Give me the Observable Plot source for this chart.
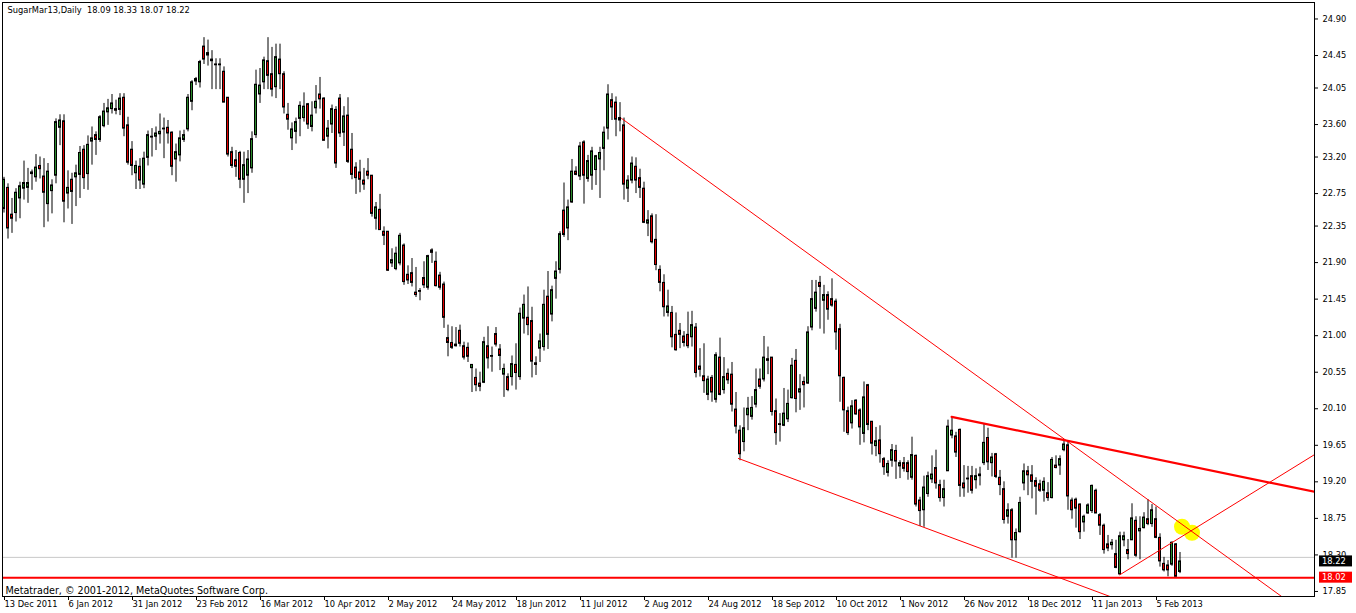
<!DOCTYPE html>
<html>
<head>
<meta charset="utf-8">
<script src="https://cdn.jsdelivr.net/npm/d3@7"></script>
<script src="https://cdn.jsdelivr.net/npm/@observablehq/plot@0.6"></script>
<style>
  html, body { margin: 0; padding: 0; background: #ffffff; }
  svg { display: block; }
</style>
</head>
<body>
<div id="chart"></div>
<script>
// ---- Data: SugarMar13 daily bars (index 0 = 13 Dec 2011) ----
const open = [
22.56,22.82,22.49,22.51,22.69,22.81,22.82,22.99,22.95,23.09,
22.96,22.62,22.78,22.97,23.56,23.64,22.75,22.92,22.95,22.98,
23.29,22.99,23.39,23.47,23.41,23.58,23.75,23.79,23.79,23.78,
23.93,23.59,23.29,23.00,23.08,22.86,23.19,23.45,23.45,23.48,
23.54,23.56,23.50,23.17,23.22,23.41,23.54,23.88,24.13,24.12,
24.56,24.45,24.40,24.34,24.33,24.25,23.93,23.26,23.16,23.25,
22.92,22.97,23.06,23.47,23.97,24.12,24.38,24.22,24.06,24.40,
24.22,23.72,23.43,23.51,23.67,23.68,23.85,23.57,23.80,23.97,
23.92,23.45,23.60,23.78,23.92,23.50,23.71,23.29,23.07,23.01,
22.91,23.02,22.97,22.44,22.55,22.28,22.28,21.89,21.82,21.89,
22.11,21.75,21.77,21.53,21.55,21.71,21.59,22.05,21.91,21.74,
21.63,20.97,20.91,20.89,21.06,20.87,20.85,20.60,20.48,20.41,
20.42,20.87,20.75,21.02,20.83,20.52,20.49,20.49,20.64,20.49,
21.21,21.22,21.18,20.66,20.84,20.86,21.48,21.26,21.70,21.81,
22.54,22.32,22.64,23.02,22.96,23.38,22.93,22.97,23.04,23.17,
23.30,23.55,23.90,23.87,23.68,23.59,22.81,22.91,23.08,22.94,
22.81,22.38,22.47,22.18,21.81,21.65,21.28,21.28,21.01,21.06,
20.99,21.01,20.98,21.10,20.62,20.50,20.27,20.48,20.21,20.73,
20.33,20.53,20.52,20.09,19.83,19.69,20.02,20.00,20.15,20.46,
20.46,20.71,20.73,20.07,19.91,19.89,19.97,20.23,20.69,20.30,
20.43,20.41,21.10,21.33,21.65,21.43,21.50,21.45,21.42,21.08,
20.48,20.07,19.92,20.20,20.08,19.79,20.39,19.94,19.64,19.71,
19.48,19.31,19.46,19.58,19.39,19.43,19.43,19.25,19.52,18.97,
18.85,19.05,19.23,19.37,19.16,19.00,19.33,19.77,19.76,19.84,
19.18,19.24,19.27,19.22,19.27,19.43,19.74,19.43,19.54,19.25,
19.11,18.77,18.85,18.48,18.58,19.18,19.33,19.28,19.21,19.17,
19.09,19.06,19.00,19.40,19.40,19.59,19.65,18.97,18.98,18.92,
18.70,18.81,18.84,19.09,18.79,18.66,18.43,18.42,18.31,18.06,
18.48,18.36,18.48,18.72,18.59,18.63,18.74,18.68,18.74,18.51,
18.19,18.17,18.18,18.43,18.09
];
const high = [
22.95,22.87,22.69,22.81,22.89,23.15,23.06,23.04,23.23,23.20,
23.18,23.12,22.92,23.67,23.72,23.72,23.03,23.00,23.10,23.33,
23.34,23.46,23.57,23.51,23.71,23.86,23.91,23.97,23.90,23.98,
23.98,23.69,23.39,23.15,23.18,23.26,23.52,23.55,23.57,23.73,
23.68,23.65,23.51,23.36,23.52,23.53,23.97,24.14,24.18,24.39,
24.67,24.64,24.51,24.41,24.41,24.31,23.93,23.32,23.28,23.27,
23.26,23.28,23.51,24.27,24.29,24.43,24.67,24.55,24.59,24.59,
24.25,23.86,23.62,23.68,23.88,23.99,23.86,23.88,24.08,24.18,
23.93,23.65,23.84,23.82,23.97,23.82,23.93,23.49,23.13,23.16,
23.06,23.18,22.97,22.64,22.74,22.34,22.28,22.07,22.09,22.26,
22.13,21.86,21.95,21.84,21.58,21.91,21.99,22.07,22.03,21.78,
21.66,21.13,21.11,21.10,21.13,20.92,20.91,20.64,20.59,20.55,
20.98,21.11,20.86,21.10,20.89,20.65,20.53,20.75,20.90,21.34,
21.50,21.60,21.35,20.74,21.02,21.56,21.79,21.61,21.91,22.28,
22.88,22.67,23.17,23.08,23.38,23.40,23.22,23.32,23.22,23.32,
23.57,24.09,23.98,23.94,23.87,23.68,22.97,23.20,23.19,23.05,
22.89,22.54,22.50,22.49,21.86,21.75,21.56,21.36,21.28,21.15,
21.05,21.29,21.30,21.15,20.84,20.90,20.50,20.51,20.79,20.97,
20.73,20.59,20.67,20.30,19.89,20.11,20.24,20.25,20.59,20.59,
20.99,20.86,20.73,20.22,20.04,20.35,20.33,20.72,20.83,20.52,
20.49,21.11,21.68,21.68,21.73,21.62,21.54,21.70,21.45,21.14,
20.49,20.12,20.20,20.21,20.10,20.43,20.40,19.94,19.87,19.89,
19.50,19.46,19.66,19.65,19.46,19.50,19.46,19.75,19.53,19.01,
19.27,19.32,19.52,19.59,19.22,19.22,19.96,20.00,19.81,19.85,
19.40,19.39,19.39,19.36,19.38,19.91,19.86,19.55,19.55,19.34,
19.20,18.93,18.87,18.62,19.01,19.42,19.39,19.40,19.25,19.22,
19.25,19.19,19.50,19.52,19.52,19.71,19.69,19.00,19.00,18.93,
18.79,18.93,19.16,19.11,18.81,18.68,18.54,18.49,18.48,18.58,
18.58,18.49,18.93,18.77,18.77,18.82,18.98,18.92,18.89,18.56,
18.27,18.23,18.46,18.44,18.33
];
const low = [
22.51,22.19,22.26,22.40,22.44,22.67,22.63,22.79,22.89,22.93,
22.33,22.40,22.50,22.87,23.34,22.39,22.56,22.37,22.59,22.69,
22.80,22.79,23.10,23.22,23.38,23.56,23.59,23.73,23.72,23.71,
23.45,23.10,22.97,22.80,22.80,22.81,23.09,23.20,23.28,23.36,
23.18,23.36,22.97,22.89,23.14,23.38,23.51,23.77,24.08,24.05,
24.34,24.32,24.03,24.03,24.03,23.87,23.20,23.06,22.95,22.81,
22.63,22.75,23.00,23.43,23.86,24.03,24.03,23.94,23.92,24.03,
23.73,23.53,23.28,23.36,23.45,23.63,23.54,23.51,23.73,23.79,
23.40,23.30,23.49,23.06,23.44,23.33,23.12,22.92,22.74,22.76,
22.79,22.92,22.46,22.30,22.30,22.11,21.79,21.84,21.80,21.86,
21.62,21.63,21.60,21.47,21.43,21.58,21.56,21.89,21.60,21.56,
21.09,20.74,20.83,20.86,20.86,20.70,20.67,20.30,20.31,20.31,
20.41,20.59,20.55,20.86,20.57,20.24,20.31,20.38,20.33,20.45,
21.02,21.00,20.48,20.51,20.67,20.81,20.83,21.17,21.45,21.76,
22.21,22.17,22.63,22.97,22.91,22.62,22.89,22.79,22.85,22.69,
23.03,23.41,23.65,23.45,23.51,22.67,22.64,22.87,22.75,22.69,
22.38,22.22,22.13,21.80,21.54,21.23,21.23,20.85,20.81,20.84,
20.86,20.84,20.86,20.48,20.49,20.29,20.20,20.18,20.17,20.26,
20.28,20.40,20.06,19.79,19.46,19.57,19.83,19.96,20.11,20.34,
20.43,20.52,20.01,19.65,19.69,19.88,19.93,20.22,20.05,20.08,
20.11,20.40,21.06,21.29,21.08,21.02,21.19,21.35,20.82,20.18,
19.81,19.77,19.85,20.02,19.65,19.68,19.83,19.53,19.51,19.43,
19.28,19.26,19.38,19.23,19.24,19.32,19.22,19.22,18.89,18.65,
18.64,19.01,19.18,19.11,18.95,18.89,19.33,19.73,19.50,19.01,
19.01,19.06,19.05,19.11,19.15,19.40,19.34,19.26,19.24,19.03,
18.68,18.68,18.26,18.26,18.57,19.09,19.03,18.99,18.79,19.07,
18.95,18.96,18.99,19.36,19.28,19.57,18.85,18.74,18.63,18.49,
18.58,18.80,18.81,18.81,18.54,18.31,18.34,18.36,18.13,18.05,
18.40,18.24,18.48,18.27,18.24,18.62,18.66,18.64,18.50,18.15,
18.09,18.03,18.16,18.03,18.07
];
const close = [
22.92,22.32,22.44,22.76,22.84,22.88,22.88,23.01,23.07,23.05,
22.76,23.02,22.85,23.63,23.65,22.65,22.82,22.77,23.00,23.25,
22.94,23.35,23.43,23.41,23.69,23.76,23.80,23.86,23.77,23.92,
23.55,23.13,23.09,23.09,22.91,23.18,23.47,23.44,23.49,23.51,
23.55,23.49,23.08,23.26,23.43,23.47,23.93,24.12,24.16,24.37,
24.40,24.48,24.38,24.33,24.34,23.87,23.23,23.09,23.08,22.92,
23.10,23.17,23.42,24.09,24.08,24.39,24.20,24.03,24.43,24.22,
23.81,23.66,23.54,23.63,23.83,23.82,23.60,23.71,23.88,23.91,
23.40,23.55,23.79,23.12,23.49,23.70,23.14,22.98,22.94,22.92,
22.86,22.97,22.50,22.58,22.30,22.23,21.80,21.93,22.01,22.23,
21.66,21.68,21.65,21.50,21.54,21.62,21.98,22.02,21.61,21.59,
21.22,20.91,20.85,20.87,20.90,20.73,20.74,20.64,20.39,20.37,
20.92,20.72,20.74,20.89,20.75,20.59,20.33,20.65,20.54,21.27,
21.38,21.13,20.68,20.64,20.93,21.38,21.01,21.56,21.79,22.25,
22.24,22.58,23.02,22.98,23.33,22.97,23.15,23.27,23.21,23.25,
23.50,23.97,23.81,23.66,23.65,22.86,22.91,23.12,22.91,22.82,
22.39,22.42,22.15,21.87,21.65,21.35,21.36,20.98,20.82,21.01,
20.91,20.87,21.13,20.54,20.58,20.44,20.46,20.30,20.76,20.27,
20.49,20.45,20.15,19.88,19.54,19.86,20.10,20.11,20.33,20.37,
20.73,20.69,20.06,19.80,19.90,20.04,20.16,20.63,20.22,20.34,
20.39,21.04,21.45,21.53,21.60,21.50,21.32,21.37,21.04,20.50,
20.08,19.80,20.13,20.03,19.87,20.24,19.90,19.67,19.70,19.54,
19.38,19.42,19.59,19.45,19.43,19.36,19.32,19.53,18.92,18.84,
19.13,19.27,19.29,19.18,19.00,19.11,19.88,19.83,19.56,19.15,
19.12,19.23,19.09,19.27,19.29,19.68,19.44,19.50,19.26,19.16,
18.73,18.85,18.48,18.57,18.94,19.33,19.28,19.20,19.14,19.09,
19.20,19.00,19.47,19.37,19.48,19.66,19.02,18.85,18.87,18.58,
18.77,18.91,19.15,18.81,18.66,18.36,18.38,18.45,18.14,18.53,
18.53,18.31,18.75,18.29,18.62,18.76,18.68,18.85,18.51,18.22,
18.11,18.11,18.45,18.03,18.22
];

// Date labels on the time axis (every 16th bar)
const dateLabels = ["13 Dec 2011","6 Jan 2012","31 Jan 2012","23 Feb 2012","16 Mar 2012",
  "10 Apr 2012","2 May 2012","24 May 2012","18 Jun 2012","11 Jul 2012","2 Aug 2012",
  "24 Aug 2012","18 Sep 2012","10 Oct 2012","1 Nov 2012","26 Nov 2012","18 Dec 2012",
  "11 Jan 2013","5 Feb 2013"];
const dateTickBars = [0,16,32,48,64,80,96,112,128,144,160,176,192,208,224,240,256,272,288];

// Price axis labels
const priceTicks = [24.90,24.45,24.05,23.60,23.20,22.75,22.35,21.90,21.45,21.00,20.55,20.10,19.65,19.20,18.75,18.30,17.85];

// Drawn objects (bar index, price)
const thinTrendlines = [
  [{bar:154.4, price:23.675},{bar:330, price:17.41}],   // upper falling line
  [{bar:183.6, price:19.488},{bar:300, price:17.358}],  // lower channel line
  [{bar:278.95, price:18.055},{bar:327.625, price:19.535}] // rising line
];
const thickTrendline = [{bar:236.9, price:20.00},{bar:327.625, price:19.077}];
const supportLevel = 18.02;
const askLevel = 18.27;
const priceTags = [{price:18.22, bg:"#000000"},{price:18.02, bg:"#ff0000"}];
const highlight = [{bar:295.75, price:18.61}];

const titleText = "SugarMar13,Daily  18.09 18.33 18.07 18.22";
const footerText = "Metatrader, \u00A9 2001-2012, MetaQuotes Software Corp.";

// ---- Build ----
const candles = open.map((o, i) => ({i, open:o, high:high[i], low:low[i], close:close[i]}));
const bull = "#2b8a2b", bear = "#e00000";
const labelOf = new Map(dateTickBars.map((b, k) => [b, dateLabels[k]]));
const font = "'DejaVu Sans', sans-serif";

const chart = Plot.plot({
  width: 1356,
  height: 613,
  marginLeft: 2,
  marginTop: 2,
  marginRight: 42,
  marginBottom: 17,
  x: {domain: [-0.375, 327.625], axis: null},
  y: {domain: [17.788, 25.103], axis: null},
  style: {background: "#ffffff", fontFamily: font, fontSize: "8.3px", color: "#000"},
  marks: [
    Plot.ruleY([askLevel], {stroke: "#c8c8c8", strokeWidth: 1}),
    Plot.dot(highlight, {x: "bar", y: "price", r: 8, dx: -5, dy: -3, fill: "#ffff00", stroke: "none"}),
    Plot.dot(highlight, {x: "bar", y: "price", r: 8, dx: 5, dy: 3, fill: "#ffff00", stroke: "none"}),
    Plot.ruleX(candles, {x: "i", y1: "low", y2: "high", stroke: "#000", strokeWidth: 1}),
    Plot.rect(candles, {
      x1: d => d.i - 0.25, x2: d => d.i + 0.25,
      y1: "open", y2: "close",
      fill: d => d.close >= d.open ? bull : bear,
      stroke: "#000", strokeWidth: 1
    }),
    ...thinTrendlines.map(seg => Plot.line(seg, {x: "bar", y: "price", stroke: "#ff0000", strokeWidth: 1, clip: true})),
    Plot.line(thickTrendline, {x: "bar", y: "price", stroke: "#ff0000", strokeWidth: 2.2, clip: true}),
    Plot.ruleY([supportLevel], {stroke: "#ff0000", strokeWidth: 2}),
    Plot.frame({stroke: "#000", strokeWidth: 1}),
    Plot.axisY(priceTicks, {anchor: "right", tickSize: 3, tickPadding: 5,
      tickFormat: d => d.toFixed(2), fontSize: 8.3}),
    Plot.axisX(dateTickBars, {anchor: "bottom", tickSize: 4, tickPadding: 1,
      tickFormat: d => labelOf.get(d), textAnchor: "start", dx: 0.5, fontSize: 8.3}),
    Plot.text([titleText], {frameAnchor: "top-left", dx: 5, dy: 5, textAnchor: "start",
      lineAnchor: "top", fontSize: 8.3, fill: "#000", style: "white-space:pre"}),
    Plot.text([footerText], {frameAnchor: "bottom-left", dx: 3, dy: -3, textAnchor: "start",
      lineAnchor: "bottom", fontSize: 9.6, fill: "#000"})
  ]
});

document.getElementById("chart").appendChild(chart);

// current-price tags on the price axis, placed with Plot's own y scale
const ys = chart.scale("y");
const svg = d3.select(chart);
const rightEdge = 1356 - 42;
priceTags.forEach(t => {
  const yc = ys.apply(t.price);
  svg.append("rect").attr("x", rightEdge + 5).attr("y", yc - 5.5)
    .attr("width", 33).attr("height", 11).attr("fill", t.bg);
  svg.append("text").attr("x", rightEdge + 8).attr("y", yc).attr("dy", "0.35em")
    .attr("text-anchor", "start")
    .attr("fill", "#fff").attr("font-family", font).attr("font-size", "8.3px")
    .text(t.price.toFixed(2));
});
</script>
</body>
</html>
